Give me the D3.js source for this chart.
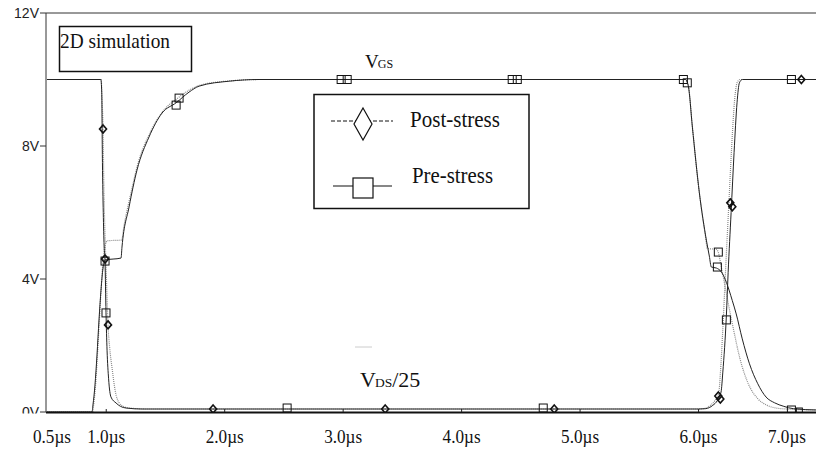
<!DOCTYPE html>
<html><head><meta charset="utf-8">
<script src="https://cdn.jsdelivr.net/npm/d3@7"></script>
<style>body{margin:0;background:#fff}svg{display:block}</style>
</head><body>
<script>
// ---- data (time in µs, voltage in V) ----
const preVgs = [[0.5,0],[0.88,0],[0.888,0.21],[0.905,0.81],[0.922,1.71],[0.939,2.77],[0.956,3.67],[0.973,4.33],[0.99,4.57],[1.125,4.63],[1.133,4.96],[1.193,6.17],[1.26,7.28],[1.361,8.27],[1.471,8.99],[1.59,9.3],[1.699,9.62],[1.784,9.8],[2.04,9.95],[2.29,10],[5.889,10],[5.914,9.8],[5.948,8.57],[6.007,6.59],[6.066,5.17],[6.091,4.69],[6.108,4.36],[6.15,4.33],[6.193,4.21],[6.235,3.9],[6.285,3.35],[6.318,2.95],[6.369,2.2],[6.43,1.45],[6.5,0.85],[6.57,0.45],[6.64,0.28],[6.72,0.17],[6.8,0.1],[7.0,0.06]];
const postVgs = [[0.5,0],[0.885,0],[0.893,0.2],[0.91,0.8],[0.927,1.8],[0.944,2.9],[0.96,3.9],[0.975,4.6],[0.99,5.0],[1.01,5.15],[1.13,5.17],[1.15,5.6],[1.2,6.45],[1.27,7.5],[1.37,8.4],[1.48,9.05],[1.6,9.43],[1.7,9.68],[1.8,9.84],[2.05,9.96],[2.3,10],[5.889,10],[5.914,9.8],[5.948,8.57],[6.007,6.59],[6.058,5.3],[6.074,4.92],[6.15,4.89],[6.167,4.8],[6.19,4.4],[6.22,3.85],[6.26,3.1],[6.3,2.4],[6.35,1.6],[6.42,0.85],[6.5,0.4],[6.58,0.2],[6.7,0.1],[7.0,0.06]];
const preVds = [[0.5,10],[0.955,10],[0.962,9.6],[0.968,7.5],[0.975,6.0],[0.982,5.0],[0.99,4.5],[0.998,3.0],[1.007,1.86],[1.02,1.0],[1.04,0.45],[1.083,0.27],[1.12,0.17],[1.167,0.12],[1.3,0.09],[6.0,0.09],[6.06,0.1],[6.12,0.2],[6.16,0.35],[6.19,0.6],[6.205,1.2],[6.235,2.9],[6.25,4.2],[6.275,6.0],[6.3,7.8],[6.325,9.3],[6.345,9.9],[6.37,10],[7.0,10]];
const postVds = [[0.5,10],[0.957,10],[0.965,9.4],[0.973,8.5],[0.98,6.8],[0.99,5.3],[1.0,4.2],[1.015,2.62],[1.03,1.9],[1.05,1.3],[1.075,0.65],[1.11,0.27],[1.15,0.16],[1.19,0.12],[1.35,0.09],[5.98,0.09],[6.04,0.1],[6.1,0.2],[6.14,0.35],[6.17,0.55],[6.185,1.2],[6.205,2.5],[6.23,4.4],[6.255,6.2],[6.28,8.0],[6.305,9.4],[6.325,9.9],[6.35,10],[7.0,10]];
const squareMarks = [[0.99,4.54],[0.998,2.98],[1.59,9.23],[1.615,9.44],[2.527,0.12],[2.983,10],[3.034,10],[4.427,10],[4.47,10],[4.689,0.12],[5.872,10],[5.905,9.9],[6.167,4.81],[6.159,4.36],[6.235,2.77],[6.784,10],[6.784,0.06]];
const smallSquareMarks = [[6.851,0.03]];
const diamondMarks = [[0.973,8.51],[0.99,4.6],[1.015,2.62],[1.902,0.09],[3.355,0.09],[4.782,0.09],[6.268,6.29],[6.285,6.17],[6.167,0.48],[6.184,0.39],[6.868,10]];
const xTicks = [1,2,3,4,5,6,7];
const xTickLabels = ["0.5µs","1.0µs","2.0µs","3.0µs","4.0µs","5.0µs","6.0µs","7.0µs"];
const xLabelTimes = [0.5,1,2,3,4,5,6,7];
const yTicks = [0,4,8,12];
const yTickLabels = ["0V","4V","8V","12V"];
const legendNames = ["Post-stress","Pre-stress"];

// ---- layout ----
const W = 816, H = 452;
const padL = 47, padT = 13, baseY = 412, endX = 817;
const svg = d3.select("body").append("svg").attr("width", W).attr("height", H);
const x = d3.scaleLinear().domain([0.5, 7.0]).range([padL, endX]);
const y = d3.scaleLinear().domain([0, 12]).range([baseY, padT]);
const serif = "'Liberation Serif','Times New Roman',serif";

svg.append("defs").append("clipPath").attr("id","clip")
  .append("rect").attr("x", padL).attr("y", padT).attr("width", W-padL).attr("height", baseY-padT+1);

const line = d3.line().x(d => x(d[0])).y(d => y(d[1])).curve(d3.curveMonotoneX);
const plot = svg.append("g").attr("clip-path","url(#clip)");

// post-stress (dotted gray)
[postVgs, postVds].forEach(s => plot.append("path").attr("d", line(s))
  .attr("fill","none").attr("stroke","#8a8a8a").attr("stroke-width",1.2).attr("stroke-dasharray","1,1"));
// pre-stress (solid dark)
[preVgs, preVds].forEach(s => plot.append("path").attr("d", line(s))
  .attr("fill","none").attr("stroke","#222").attr("stroke-width",1));

// markers
plot.selectAll(".sq").data(squareMarks).join("rect")
  .attr("x", d => x(d[0]) - 4).attr("y", d => y(d[1]) - 4).attr("width",8).attr("height",8)
  .attr("fill","none").attr("stroke","#111").attr("stroke-width",1);
plot.selectAll(".ssq").data(smallSquareMarks).join("rect")
  .attr("x", d => x(d[0]) - 3).attr("y", d => y(d[1]) - 3).attr("width",6).attr("height",5)
  .attr("fill","none").attr("stroke","#111").attr("stroke-width",1);
plot.selectAll(".dm").data(diamondMarks).join("path")
  .attr("d", d => { const cx = x(d[0]), cy = y(d[1]);
    return `M${cx},${cy-4}L${cx+3.5},${cy}L${cx},${cy+4}L${cx-3.5},${cy}Z`; })
  .attr("fill","none").attr("stroke","#111").attr("stroke-width",1.6);

// axes frame
svg.append("line").attr("x1",padL-1).attr("x2",W).attr("y1",padT).attr("y2",padT).attr("stroke","#333").attr("stroke-width",1);
svg.append("line").attr("x1",padL-1).attr("x2",padL-1).attr("y1",padT).attr("y2",baseY).attr("stroke","#333").attr("stroke-width",1);

// y axis ticks and labels
const yg = svg.append("g");
yg.selectAll("line").data(yTicks).join("line")
  .attr("x1", padL-7).attr("x2", padL-1).attr("y1", d => y(d)).attr("y2", d => y(d)).attr("stroke","#333");
yg.selectAll("text").data(yTicks).join("text")
  .attr("x", padL-8).attr("y", d => y(d)).attr("dy","0.36em").attr("text-anchor","end")
  .attr("font-family","'Liberation Sans',Arial,sans-serif").attr("font-size",14).attr("fill","#222")
  .text((d,i) => yTickLabels[i]);

// white band below the axis (hides lower part of 0V)
svg.append("rect").attr("x",0).attr("y",baseY+1.5).attr("width",W).attr("height",H-baseY).attr("fill","#fff");

// x axis
svg.append("line").attr("x1",padL-1).attr("x2",W).attr("y1",baseY+0.5).attr("y2",baseY+0.5).attr("stroke","#111").attr("stroke-width",2);
svg.append("g").selectAll("line").data(xTicks).join("line")
  .attr("x1", d => x(d)).attr("x2", d => x(d)).attr("y1", baseY-3).attr("y2", baseY).attr("stroke","#222");
svg.append("g").selectAll("text").data(xLabelTimes).join("text")
  .attr("x", d => Math.min(Math.max(x(d), padL+5), 787))
  .attr("y", 443).attr("text-anchor","middle")
  .attr("font-family", serif).attr("font-size",19).attr("fill","#111")
  .attr("textLength",38).attr("lengthAdjust","spacingAndGlyphs")
  .text((d,i) => xTickLabels[i]);

// 2D simulation box
svg.append("rect").attr("x",59.5).attr("y",26.5).attr("width",132).attr("height",45)
  .attr("fill","#fff").attr("stroke","#111").attr("stroke-width",1.5);
svg.append("text").attr("x",60).attr("y",48).attr("font-family",serif).attr("font-size",21)
  .attr("fill","#111").attr("textLength",110).attr("lengthAdjust","spacingAndGlyphs").text("2D simulation");

// curve labels
const vgs = svg.append("text").attr("x",365).attr("y",68).attr("font-family",serif).attr("font-size",19).attr("fill","#111");
vgs.append("tspan").text("V");
vgs.append("tspan").attr("font-size",12).attr("dx",-1).text("GS");
const vds = svg.append("text").attr("x",360).attr("y",387).attr("font-family",serif).attr("font-size",22).attr("fill","#111");
vds.append("tspan").text("V");
vds.append("tspan").attr("font-size",13.5).attr("dx",-1).text("DS");
vds.append("tspan").text("/25");
svg.append("line").attr("x1",355).attr("x2",372).attr("y1",347).attr("y2",347).attr("stroke","#ccc");

// legend
const lg = svg.append("g");
lg.append("rect").attr("x",314).attr("y",94.5).attr("width",215).attr("height",114)
  .attr("fill","#fff").attr("stroke","#111").attr("stroke-width",1.5);
lg.append("line").attr("x1",331).attr("x2",393).attr("y1",121).attr("y2",121)
  .attr("stroke","#111").attr("stroke-width",1).attr("stroke-dasharray","4,2");
lg.append("path").attr("d","M363,108L372,124L363,140L354,124Z").attr("fill","#fff").attr("stroke","#111").attr("stroke-width",1.2);
lg.append("line").attr("x1",333).attr("x2",392).attr("y1",186).attr("y2",186).attr("stroke","#111").attr("stroke-width",1.2);
lg.append("rect").attr("x",353).attr("y",178).attr("width",20).attr("height",20).attr("fill","#fff").attr("stroke","#111").attr("stroke-width",1.2);
lg.selectAll("text").data(legendNames).join("text")
  .attr("x", (d,i) => i ? 412 : 410).attr("y", (d,i) => i ? 183 : 127)
  .attr("font-family",serif).attr("font-size",24).attr("fill","#111")
  .attr("textLength",(d,i) => i ? 81 : 90).attr("lengthAdjust","spacingAndGlyphs")
  .text(d => d);
</script>
</body></html>
